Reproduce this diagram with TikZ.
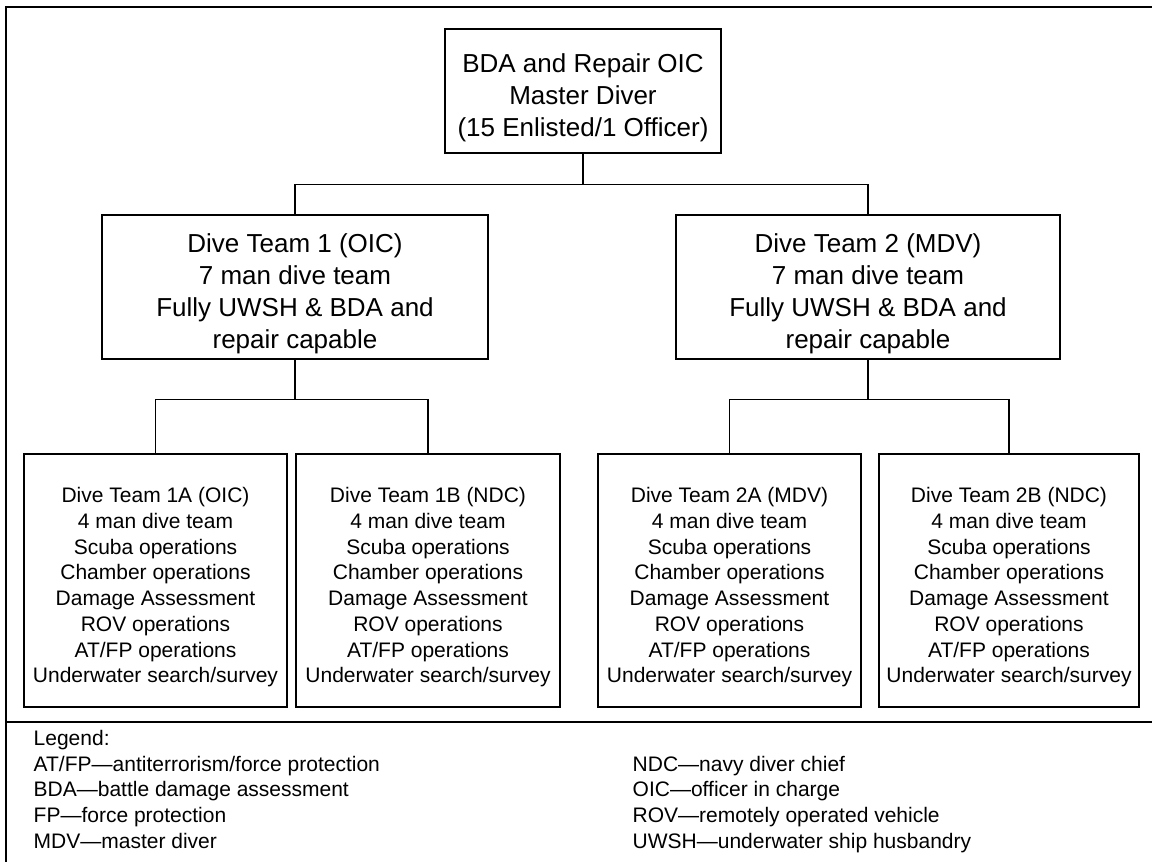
\documentclass[tikz,border=0pt]{standalone}
\usepackage{fontspec}
\setmainfont{Liberation Sans}
\usepackage{tikz}

\newcommand{\bigtop}{\rule{0pt}{33pt}}
\newcommand{\smalltop}{\rule{0pt}{29pt}}
\newcommand{\divetasks}{4 man dive team\\Scuba operations\\Chamber operations\\Damage Assessment\\ROV operations\\AT/FP operations\\Underwater search/survey}

\begin{document}
\begin{tikzpicture}[x=1pt,y=-1pt,line width=1.4pt,
		bigbox/.style={draw,inner sep=0pt,align=center,font=\fontsize{26}{32}\selectfont,minimum height=144pt},
		teambox/.style={draw,inner sep=0pt,align=center,font=\fontsize{21}{25.7}\selectfont,minimum height=253pt},
		legendtext/.style={anchor=base west,inner sep=0pt,font=\fontsize{21}{25.7}\selectfont}]
		\useasboundingbox (0,0) rectangle (1152,862);
		\clip (0,0) rectangle (1152,862);
		% frame and legend rule
		\draw [line width=2pt] (6,870) -- (6,7) -- (1160,7);
		\draw [line width=2pt] (6,722) -- (1160,722);
		% boxes
		\node [bigbox,minimum width=276pt,minimum height=124pt] (oic) at (583,91) {\bigtop BDA and Repair OIC\\Master Diver\\(15 Enlisted/1 Officer)};
		\node [bigbox,minimum width=386pt] (teamone) at (295,287) {\bigtop Dive Team 1 (OIC)\\7 man dive team\\Fully UWSH \& BDA and\\repair capable};
		\node [bigbox,minimum width=384pt] (teamtwo) at (868,287) {\bigtop Dive Team 2 (MDV)\\7 man dive team\\Fully UWSH \& BDA and\\repair capable};
		\node [teambox,minimum width=263pt] (teamonea) at (155.5,580.5) {\smalltop Dive Team 1A (OIC)\\\divetasks};
		\node [teambox,minimum width=264pt] (teamoneb) at (428,580.5) {\smalltop Dive Team 1B (NDC)\\\divetasks};
		\node [teambox,minimum width=263pt] (teamtwoa) at (729.5,580.5) {\smalltop Dive Team 2A (MDV)\\\divetasks};
		\node [teambox,minimum width=260pt] (teamtwob) at (1009,580.5) {\smalltop Dive Team 2B (NDC)\\\divetasks};
		% connectors
		\draw (oic.south) -- ++(0,31) -| (teamone.north);
		\draw (oic.south) -- ++(0,31) -| (teamtwo.north);
		\draw (teamone.south) -- ++(0,40) -| (teamonea.north);
		\draw (teamone.south) -- ++(0,40) -| (teamoneb.north);
		\draw (teamtwo.south) -- ++(0,40) -| (teamtwoa.north);
		\draw (teamtwo.south) -- ++(0,40) -| (teamtwob.north);
		% legend
		\node [legendtext] (legend) at (33,745) {Legend:};
		\node [legendtext] (atfp) at (33,771) {AT/FP—antiterrorism/force protection};
		\node [legendtext] (bda) at (33,796) {BDA—battle damage assessment};
		\node [legendtext] (fp) at (33,822) {FP—force protection};
		\node [legendtext] (mdv) at (33,848) {MDV—master diver};
		\node [legendtext] (ndc) at (632,771) {NDC—navy diver chief};
		\node [legendtext] (oicdef) at (632,796) {OIC—officer in charge};
		\node [legendtext] (rov) at (632,822) {ROV—remotely operated vehicle};
		\node [legendtext] (uwsh) at (632,848) {UWSH—underwater ship husbandry};
	\end{tikzpicture}
\end{document}
